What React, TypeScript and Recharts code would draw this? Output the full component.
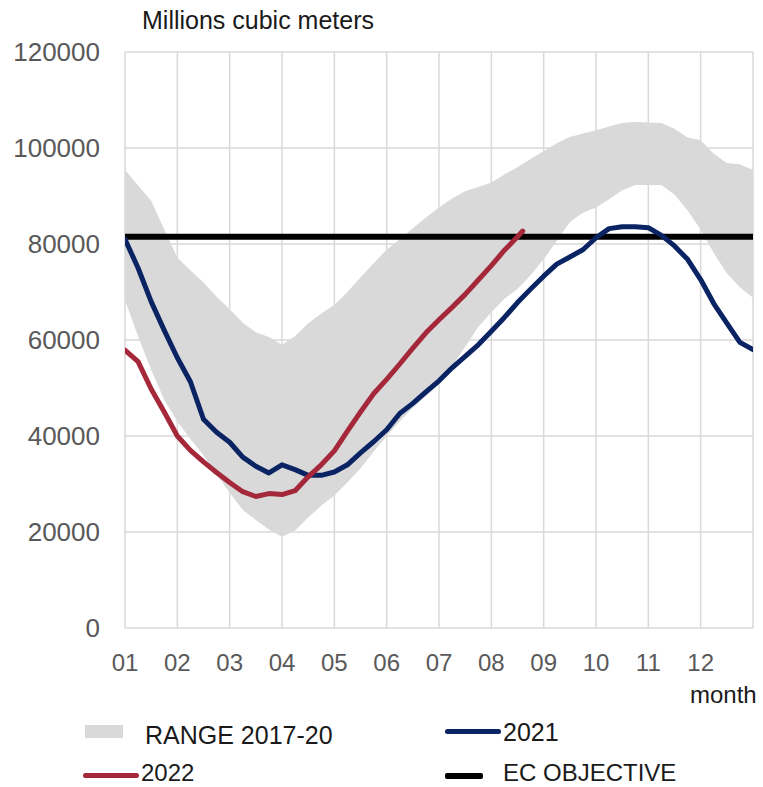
import React from 'react';
import { ComposedChart, Area, Line, XAxis, YAxis, CartesianGrid } from 'recharts';

// Month positions (fractional months, 1 = start of January, 13 = end of December)
const MONTHS = [1, 1.25, 1.5, 1.75, 2, 2.25, 2.5, 2.75, 3, 3.25, 3.5, 3.75, 4, 4.25, 4.5, 4.75, 5, 5.25, 5.5, 5.75, 6, 6.25, 6.5, 6.75, 7, 7.25, 7.5, 7.75, 8, 8.25, 8.5, 8.75, 9, 9.25, 9.5, 9.75, 10, 10.25, 10.5, 10.75, 11, 11.25, 11.5, 11.75, 12, 12.25, 12.5, 12.75, 13];

const RANGE_HIGH = [95400, 92200, 89000, 83000, 77200, 74500, 72000, 69000, 66400, 63600, 61600, 60600, 59000, 60800, 63500, 65500, 67300, 70000, 73000, 76000, 78800, 81000, 83300, 85500, 87600, 89500, 91000, 91900, 92800, 94500, 96000, 97700, 99300, 101000, 102300, 103000, 103700, 104500, 105200, 105400, 105300, 105200, 104000, 102200, 101600, 98800, 96900, 96600, 95400];

const RANGE_LOW = [68300, 60800, 53800, 47500, 43000, 39400, 36000, 32000, 28200, 24600, 22500, 20500, 19000, 20300, 23000, 25500, 27600, 30300, 33300, 36700, 40000, 43000, 45900, 48300, 50800, 54500, 58600, 62700, 65800, 68600, 70600, 73500, 76800, 80700, 84600, 86500, 87600, 89300, 91200, 92300, 92300, 92300, 90300, 87000, 83000, 78100, 73900, 71000, 68800];

const Y2021 = [81000, 75000, 68000, 62000, 56300, 51300, 43500, 40800, 38700, 35600, 33700, 32300, 34000, 33000, 31800, 31800, 32500, 34000, 36500, 38800, 41300, 44700, 46800, 49200, 51500, 54200, 56600, 59000, 61800, 64700, 67800, 70600, 73300, 75800, 77300, 78800, 81300, 83200, 83600, 83600, 83400, 81800, 79600, 76800, 72600, 67600, 63500, 59500, 58000];

const MONTHS_2022 = [1, 1.25, 1.5, 1.75, 2, 2.25, 2.5, 2.75, 3, 3.25, 3.5, 3.75, 4, 4.25, 4.5, 4.75, 5, 5.25, 5.5, 5.75, 6, 6.25, 6.5, 6.75, 7, 7.25, 7.5, 7.75, 8, 8.25, 8.5, 8.6];
const Y2022 = [57900, 55500, 49800, 45000, 40000, 37000, 34600, 32400, 30300, 28400, 27400, 28000, 27800, 28600, 31500, 34000, 36900, 41000, 45000, 48800, 51800, 55000, 58300, 61500, 64200, 66800, 69500, 72500, 75500, 78700, 81500, 82700];

const OBJ_MONTHS = [1, 13];
const OBJ_VALUES = [81500, 81500];

const X_TICKS = [1, 2, 3, 4, 5, 6, 7, 8, 9, 10, 11, 12, 13];
const X_LABELS = ['01', '02', '03', '04', '05', '06', '07', '08', '09', '10', '11', '12', ''];
const Y_TICKS = [0, 20000, 40000, 60000, 80000, 100000, 120000];

const rangeData = MONTHS.map((m, i) => ({ m, range: [RANGE_LOW[i], RANGE_HIGH[i]] }));
const data2021 = MONTHS.map((m, i) => ({ m, v: Y2021[i] }));
const data2022 = MONTHS_2022.map((m, i) => ({ m, v: Y2022[i] }));
const dataObj = OBJ_MONTHS.map((m, i) => ({ m, v: OBJ_VALUES[i] }));

const FONT = '"Liberation Sans", Arial, Helvetica, sans-serif';
const GRAY = '#d9d9d9';
const NAVY = '#0a2463';
const RED = '#a4283a';
const TEXT = '#1a1a1a';

const txt = (left: number, top: number, s: string, size = 25, color = TEXT) => (
  <div style={{ position: 'absolute', left, top, fontSize: size, lineHeight: '1', color, fontFamily: FONT, whiteSpace: 'nowrap' }}>{s}</div>
);

export default function App() {
  return (
    <div style={{ position: 'absolute', left: 0, top: 0, width: 763, height: 787, background: '#fff', fontFamily: FONT, overflow: 'hidden' }}>
      <ComposedChart width={763} height={787} margin={{ top: 52, right: 10, bottom: 119, left: 0 }}>
        <CartesianGrid stroke={GRAY} strokeWidth={1.5} />
        <XAxis
          type="number"
          dataKey="m"
          domain={[1, 13]}
          ticks={X_TICKS}
          tickFormatter={(v: number) => X_LABELS[X_TICKS.indexOf(v)] ?? ''}
          axisLine={false}
          tickLine={false}
          tickMargin={20}
          height={40}
          interval={0}
          allowDataOverflow
          tick={{ fontSize: 24, fill: '#595959', fontFamily: FONT }}
        />
        <YAxis
          type="number"
          domain={[0, 120000]}
          ticks={Y_TICKS}
          width={125}
          axisLine={false}
          tickLine={false}
          tickMargin={19}
          interval={0}
          tick={{ fontSize: 26, fill: '#595959', fontFamily: FONT }}
        />
        <Area data={rangeData} dataKey="range" type="linear" stroke="none" fill={GRAY} fillOpacity={1} isAnimationActive={false} />
        <Line data={dataObj} dataKey="v" type="linear" stroke="#000" strokeWidth={6} dot={false} isAnimationActive={false} />
        <Line data={data2021} dataKey="v" type="linear" stroke={NAVY} strokeWidth={5} dot={false} strokeLinejoin="round" strokeLinecap="round" isAnimationActive={false} />
        <Line data={data2022} dataKey="v" type="linear" stroke={RED} strokeWidth={5} dot={false} strokeLinejoin="round" strokeLinecap="round" isAnimationActive={false} />
      </ComposedChart>

      {txt(142, 8, 'Millions cubic meters', 25)}
      {txt(690, 683, 'month', 24)}

      <div style={{ position: 'absolute', left: 85, top: 725, width: 38, height: 13, background: GRAY }} />
      {txt(145, 723, 'RANGE 2017-20', 25)}

      <div style={{ position: 'absolute', left: 445, top: 729, width: 56, height: 5, borderRadius: 3, background: NAVY }} />
      {txt(503, 720, '2021', 25)}

      <div style={{ position: 'absolute', left: 83, top: 773, width: 56, height: 5, borderRadius: 3, background: RED }} />
      {txt(141, 761, '2022', 24)}

      <div style={{ position: 'absolute', left: 445, top: 773, width: 38, height: 6, borderRadius: 2, background: '#000' }} />
      {txt(503, 761, 'EC OBJECTIVE', 24)}
    </div>
  );
}
